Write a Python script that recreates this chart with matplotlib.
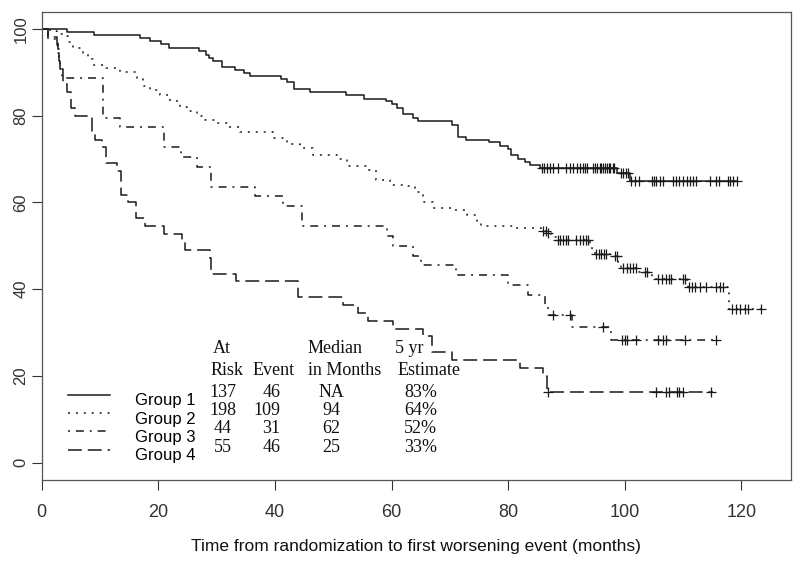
import numpy as np
import matplotlib
matplotlib.use('Agg')
import matplotlib.pyplot as plt
from matplotlib import font_manager
from matplotlib.lines import Line2D
from matplotlib.legend_handler import HandlerLine2D

_names = {f.name for f in font_manager.fontManager.ttflist}
SANS = 'Liberation Sans'
SERIF = 'Liberation Serif' if 'Liberation Serif' in _names else 'DejaVu Serif'

# ---------------- data ----------------
groups = ['Group 1', 'Group 2', 'Group 3', 'Group 4']

g1_time = [0, 4.3, 9.0, 16.9, 18.6, 20.4, 21.9, 27.0, 28.1, 28.7,
           29.4, 30.9, 33.1, 34.7, 35.8, 41.0, 42.0, 43.2, 46.0, 52.2,
           55.3, 59.1, 60.0, 60.9, 61.9, 63.6, 64.6, 70.3, 71.4, 72.8,
           76.7, 78.6, 80.0, 80.5, 81.7, 82.9, 83.8, 85.5, 98.6, 100.9]
g1_surv = [100, 99.3, 98.6, 97.9, 97.2, 96.5, 95.7, 95.0, 94.1, 93.3,
           92.6, 91.2, 90.6, 89.9, 89.1, 88.4, 87.7, 86.1, 85.5, 84.8,
           83.9, 83.3, 82.7, 81.8, 80.4, 79.6, 78.9, 77.9, 75.2, 74.5,
           73.9, 73.1, 72.3, 70.9, 70.1, 69.3, 68.6, 67.9, 66.8, 64.9]
g1_end = 119.4
g1_cens = [85.8, 86.2, 86.6, 87.1, 87.7, 88.5, 89.9, 90.6, 91.2, 91.8,
           92.3, 92.8, 93.2, 93.5, 94.6, 94.9, 95.3, 95.7, 96.0, 96.2,
           96.6, 97.0, 97.3, 97.5, 97.9, 98.2, 99.3, 99.7, 100.2, 100.6,
           101.1, 101.7, 102.4, 104.6, 105.0, 105.3, 106.0, 106.5, 108.3, 108.8,
           109.3, 109.9, 110.6, 111.1, 111.7, 112.2, 114.6, 115.7, 116.2, 117.7,
           118.1, 118.6, 119.2]

g2_time = [0, 1.4, 2.6, 3.7, 4.5, 5.4, 7.1, 8.0, 8.8, 11.1,
           13.4, 16.3, 17.4, 18.5, 20.3, 22.0, 23.7, 25.0, 26.6, 28.0,
           30.0, 32.0, 34.0, 39.7, 42.0, 44.3, 46.6, 51.0, 52.3, 55.7,
           57.4, 59.7, 62.3, 64.0, 65.4, 67.1, 70.6, 72.9, 74.6, 75.4,
           81.4, 85.7, 86.6, 87.4, 88.3, 94.0, 94.3, 94.9, 97.4, 98.8,
           99.4, 102.5, 104.6, 110.6, 110.9, 117.9]
g2_surv = [100, 99.5, 98.9, 98.3, 97.0, 95.6, 94.5, 93.0, 91.8, 91.0,
           90.0, 88.5, 86.8, 86.0, 84.9, 83.5, 82.0, 81.0, 79.9, 79.0,
           78.3, 77.5, 76.3, 74.9, 73.5, 72.5, 71.0, 70.0, 68.3, 67.6,
           65.2, 64.1, 63.7, 62.5, 60.2, 58.7, 58.3, 57.2, 55.3, 54.6,
           54.1, 53.4, 52.9, 52.0, 51.4, 49.9, 49.1, 48.2, 47.7, 46.2,
           44.8, 43.9, 42.4, 41.4, 40.5, 35.4]
g2_end = 124.0
g2_cens = [86.0, 86.5, 86.9, 88.5, 88.9, 89.4, 89.9, 90.3, 91.7, 92.3,
           92.9, 93.3, 93.7, 95.1, 95.6, 96.0, 96.4, 96.7, 98.3, 98.7,
           99.7, 100.3, 100.9, 101.4, 101.9, 103.4, 103.8, 105.7, 106.3, 107.1,
           107.6, 108.0, 110.0, 110.4, 111.0, 111.5, 112.1, 112.9, 114.0, 115.7,
           116.3, 116.8, 118.3, 119.0, 119.7, 120.6, 121.1, 123.4]

g3_time = [0, 1.0, 2.8, 3.0, 3.2, 3.4, 10.5, 13.4, 21.0, 23.9,
           26.6, 29.0, 36.6, 41.4, 44.6, 59.2, 60.3, 63.7, 65.1, 71.1,
           80.0, 83.4, 86.3, 86.9, 91.0, 97.6]
g3_surv = [100, 97.7, 95.5, 93.2, 90.9, 88.6, 79.5, 77.3, 72.7, 70.5,
           68.2, 63.6, 61.4, 59.1, 54.5, 52.3, 50.0, 47.7, 45.5, 43.2,
           40.9, 38.6, 36.4, 34.1, 31.4, 28.4]
g3_end = 115.7
g3_cens = [87.6, 90.6, 96.2, 99.6, 100.0, 100.3, 102.0, 105.7, 106.6, 107.1,
           110.3, 115.7]

g4_time = [0, 1.0, 2.6, 2.8, 3.0, 3.2, 3.6, 4.4, 5.0, 5.7,
           8.6, 9.1, 10.3, 11.0, 12.9, 13.6, 14.8, 16.1, 17.7, 21.0,
           24.0, 24.6, 28.9, 29.1, 33.3, 44.0, 51.7, 54.3, 56.0, 60.2,
           65.4, 66.9, 70.3, 82.0, 86.0, 86.6]
g4_surv = [100, 98.2, 96.4, 94.5, 92.7, 90.9, 87.3, 85.5, 81.8, 80.0,
           76.4, 74.5, 72.7, 69.1, 67.3, 61.8, 60.0, 56.4, 54.5, 52.7,
           50.9, 49.1, 47.3, 43.6, 41.8, 38.2, 36.4, 34.5, 32.7, 30.9,
           29.1, 25.5, 23.6, 21.8, 20.0, 16.4]
g4_end = 115.2
g4_cens = [86.9, 105.4, 107.1, 107.6, 108.9, 109.3, 110.0, 114.7]

# summary table
hdr_top = ['At', 'Median', '5 yr']
hdr_bottom = ['Risk', 'Event', 'in Months', 'Estimate']
at_risk = ['137', '198', '44', '55']
events = ['46', '109', '31', '46']
median_months = ['NA', '94', '62', '25']
five_yr = ['83%', '64%', '52%', '33%']

x_ticks = [0, 20, 40, 60, 80, 100, 120]
y_ticks = [0, 20, 40, 60, 80, 100]
x_label = 'Time from randomization to first worsening event (months)'

# ---------------- styling ----------------
DS = 1.8 / 1.389   # dash unit (px -> pt)
styles = [
    '-',
    (0, (1 * DS, 3 * DS)),
    (0, (1 * DS, 3 * DS, 4 * DS, 3 * DS)),
    (0, (7 * DS, 3 * DS)),
]
LC = '#1a1a1a'


class RaisedLineHandler(HandlerLine2D):
    """Legend key drawn a little above the label's centre (as in R)."""
    def create_artists(self, legend, orig_handle, xdescent, ydescent,
                       width, height, fontsize, trans):
        arts = super().create_artists(legend, orig_handle, xdescent, ydescent,
                                      width, height, fontsize, trans)
        for a in arts:
            a.set_ydata(np.asarray(a.get_ydata(), float) + 0.27 * fontsize)
        return arts


fig = plt.figure(figsize=(8.0, 5.62), dpi=100)
ax = fig.add_axes([41.7 / 800, 1 - 480 / 562, (791 - 41.7) / 800, (480 - 11.7) / 562])

series = [
    (g1_time, g1_surv, g1_end, g1_cens),
    (g2_time, g2_surv, g2_end, g2_cens),
    (g3_time, g3_surv, g3_end, g3_cens),
    (g4_time, g4_surv, g4_end, g4_cens),
]

for (t, s, end, cens), ls in zip(series, styles):
    t = np.asarray(t, float)
    s = np.asarray(s, float)
    tt = np.append(t, end)
    ss = np.append(s, s[-1])
    ax.plot(tt, ss, drawstyle='steps-post', color=LC, lw=1.1, ls=ls,
            dash_capstyle='butt', solid_capstyle='butt')
    c = np.asarray(cens, float)
    idx = np.searchsorted(t, c, side='right') - 1
    ax.plot(c, s[idx], ls='none', marker='+', ms=7.5, mew=0.9, color=LC)

ax.set_xlim(0, 128.5)
ax.set_ylim(-4, 104)
ax.set_xticks(x_ticks)
ax.set_yticks(y_ticks)
ax.set_xticklabels([str(v) for v in x_ticks], fontfamily=SANS, fontsize=13)
ax.set_yticklabels([str(v) for v in y_ticks], fontfamily=SANS, fontsize=12,
                   rotation=90, va='center')
ax.tick_params(axis='both', direction='out', length=7, width=0.8, colors='#333333')
ax.tick_params(axis='x', pad=10.5)
ax.tick_params(axis='y', pad=2.5)
for sp in ax.spines.values():
    sp.set_color('#555555')
    sp.set_linewidth(0.9)
ax.set_xlabel(x_label, fontfamily=SANS, fontsize=12.5, labelpad=13, color='#111111')

# legend keys + group names
handles = [Line2D([], [], color=LC, lw=1.1, ls=ls) for ls in styles]
leg = ax.legend(handles, groups, loc='upper left',
                bbox_to_anchor=(0.0355, 0.185), frameon=False,
                prop={'family': SANS, 'size': 12},
                handlelength=2.5, handletextpad=1.5, labelspacing=0.19,
                borderpad=0, borderaxespad=0,
                handler_map={Line2D: RaisedLineHandler()})

# summary table text
tkw = dict(fontfamily=SERIF, fontsize=13, color='#111111')
for txt, x in zip(hdr_top, [29.4, 45.5, 60.6]):
    ax.text(x, 25.2, txt, ha='left', va='baseline', **tkw)
for txt, x in zip(hdr_bottom, [29.0, 36.2, 45.7, 61.1]):
    ax.text(x, 20.2, txt, ha='left', va='baseline', **tkw)
row_y = [15.2, 11.0, 6.8, 2.5]
for i, y in enumerate(row_y):
    ax.text(31.1, y, at_risk[i], ha='center', va='baseline', **tkw)
    ax.text(40.9, y, events[i], ha='right', va='baseline', **tkw)
    ax.text(49.7, y, median_months[i], ha='center', va='baseline', **tkw)
    ax.text(65.0, y, five_yr[i], ha='center', va='baseline', **tkw)

fig.savefig('out.png', dpi=100)
